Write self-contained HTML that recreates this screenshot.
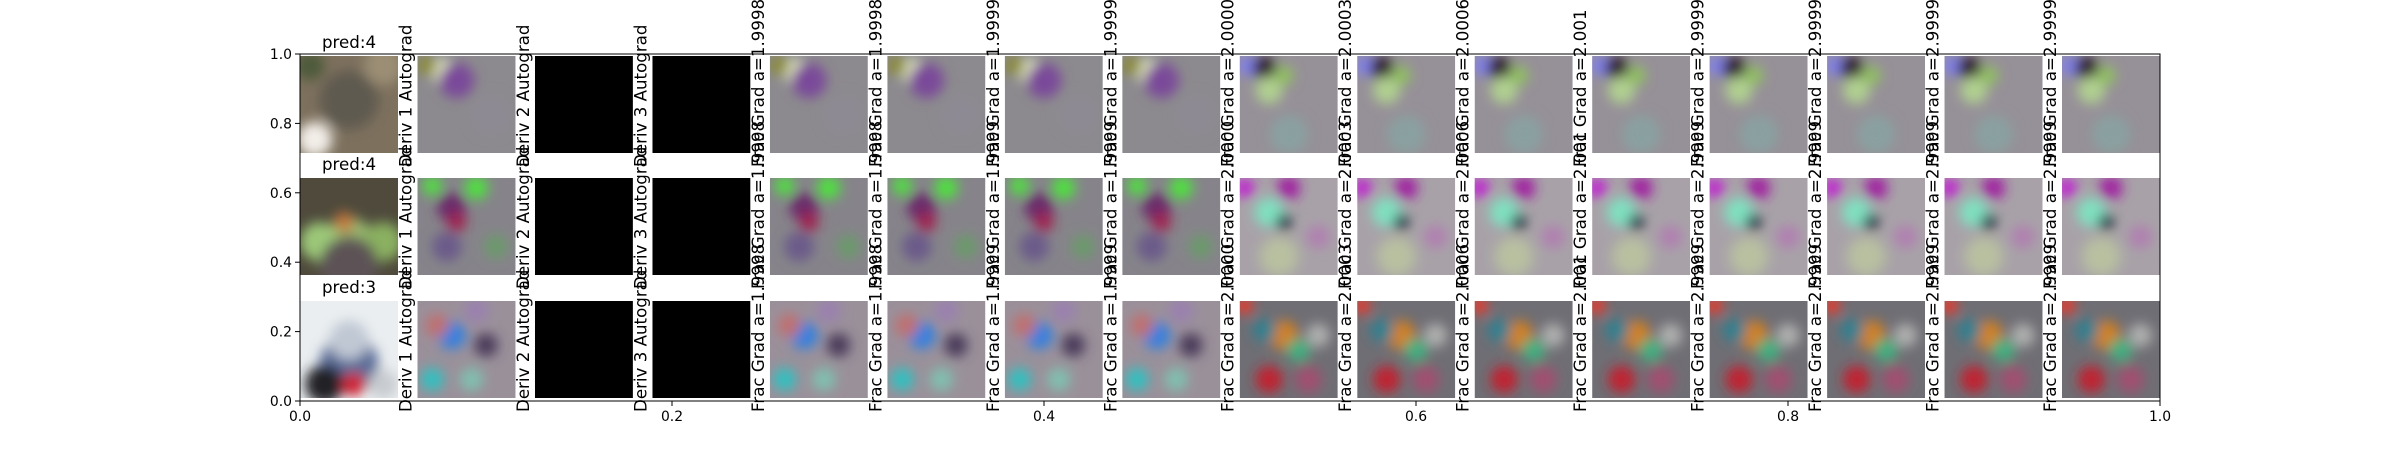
<!DOCTYPE html>
<html><head><meta charset="utf-8">
<style>
html,body{margin:0;padding:0;background:#fff;}
svg{display:block;}
text{font-family:"DejaVu Sans","Liberation Sans",sans-serif;fill:#000;}
</style></head>
<body>
<svg id="fig" width="2400" height="450" viewBox="0 0 2400 450" xmlns="http://www.w3.org/2000/svg">
<defs>
<filter id="blur" x="-50%" y="-50%" width="200%" height="200%"><feGaussianBlur stdDeviation="6"/></filter>
</defs>
<g id="cells"></g>
<g id="axes"></g>
</svg>
<script>
const colLabels = ["", "Deriv 1 Autograd","Deriv 2 Autograd","Deriv 3 Autograd",
 "Frac Grad a=1.9998","Frac Grad a=1.9998","Frac Grad a=1.9999","Frac Grad a=1.9999",
 "Frac Grad a=2.0000","Frac Grad a=2.0003","Frac Grad a=2.0006","Frac Grad a=2.001",
 "Frac Grad a=2.9999","Frac Grad a=2.9999","Frac Grad a=2.9999","Frac Grad a=2.9999"];
const rowTitles = ["pred:4","pred:4","pred:3"];
const colKinds = ["photo","salA","black","black","salA","salA","salA","salA","salB","salB","salB","salB","salB","salB","salB","salB"];
const xTicks = [0.0,0.2,0.4,0.6,0.8,1.0];
const yTicks = [0.0,0.2,0.4,0.6,0.8,1.0];

const looks = {
 photo:[
  ["#7d705d",[[0.5,0.45,0.3,"#5f5a50"],[0.15,0.85,0.18,"#f2eee8"],[0.85,0.1,0.2,"#9b8e75"],[0.1,0.1,0.15,"#4e5a3a"]]],
  ["#4f4a3c",[[0.5,0.65,0.25,"#98b870"],[0.2,0.65,0.2,"#9cc878"],[0.85,0.65,0.2,"#8ab060"],[0.45,0.45,0.1,"#c4773a"],[0.5,0.9,0.3,"#5d5256"]]],
  ["#eaeef0",[[0.5,0.65,0.3,"#5a6c98"],[0.25,0.85,0.2,"#202028"],[0.55,0.85,0.12,"#d02030"],[0.85,0.85,0.15,"#c8ccd0"],[0.5,0.4,0.2,"#c0c8d4"]]]
 ],
 salA:[
  ["#8c8a8e",[[0.25,0.15,0.12,"#e8f0c8"],[0.4,0.25,0.18,"#7a4a9a"],[0.1,0.1,0.1,"#8a8a30"],[0.75,0.6,0.2,"#8e8a94"]]],
  ["#86848a",[[0.15,0.08,0.1,"#50e040"],[0.6,0.1,0.12,"#50e040"],[0.35,0.3,0.15,"#6a2a6a"],[0.4,0.45,0.1,"#a02050"],[0.8,0.7,0.12,"#6a9a6a"],[0.3,0.7,0.15,"#6a5a8a"]]],
  ["#9a909a",[[0.35,0.35,0.14,"#3080e0"],[0.15,0.8,0.12,"#30c0c0"],[0.55,0.8,0.12,"#80c0b0"],[0.2,0.25,0.12,"#c07070"],[0.6,0.1,0.12,"#9a80b0"],[0.7,0.45,0.12,"#4a3a5a"]]]
 ],
 black:[["#000",[]],["#000",[]],["#000",[]]],
 salB:[
  ["#969098",[[0.08,0.1,0.1,"#8080f0"],[0.25,0.12,0.12,"#302030"],[0.3,0.35,0.14,"#b0d090"],[0.45,0.2,0.1,"#90c060"],[0.5,0.8,0.2,"#8aa0a0"]]],
  ["#a8a2a8",[[0.05,0.1,0.1,"#c020d0"],[0.5,0.1,0.12,"#a020a0"],[0.3,0.35,0.15,"#80e0c0"],[0.45,0.45,0.08,"#203040"],[0.8,0.6,0.12,"#b080b0"],[0.4,0.8,0.2,"#b8c0a0"]]],
  ["#6f6e74",[[0.05,0.05,0.08,"#ff3020"],[0.45,0.35,0.15,"#d08020"],[0.25,0.3,0.12,"#308090"],[0.6,0.5,0.12,"#40b080"],[0.3,0.8,0.14,"#c02030"],[0.7,0.8,0.14,"#a05070"],[0.8,0.35,0.12,"#b0b0b0"]]]
 ]
};

const NS = "http://www.w3.org/2000/svg";
const AX = {l:300,r:2160,t:54,b:401};
function sx(v){return AX.l+(AX.r-AX.l)*v;}
function sy(v){return AX.b-(AX.b-AX.t)*v;}
function mk(tag,attrs,parent){const e=document.createElementNS(NS,tag);for(const k in attrs)e.setAttribute(k,attrs[k]);parent.appendChild(e);return e;}

const cells=document.getElementById("cells");
const defs=document.querySelector("defs");
const imgW=98, pitch=(2062-300)/15;
const rowTops=[56,178,301];
for(let r=0;r<3;r++){
 for(let c=0;c<16;c++){
  const x=300+c*pitch, y=rowTops[r];
  const cp=mk("clipPath",{id:"cp"+r+"_"+c},defs);
  mk("rect",{x:x,y:y,width:imgW,height:imgW-1},cp);
  const g=mk("g",{"clip-path":"url(#cp"+r+"_"+c+")"},cells);
  
  
  const lk=looks[colKinds[c]][r];
  mk("rect",{x:x,y:y,width:imgW,height:imgW-1,fill:lk[0]},g);
  const bg=mk("g",{filter:"url(#blur)"},g);
  lk[1].forEach(b=>mk("circle",{cx:x+b[0]*imgW,cy:y+b[1]*imgW,r:b[2]*imgW,fill:b[3]},bg));
  if(c>0){
   const tx=x-6, ty=y+imgW+13;
   const t=mk("text",{x:tx,y:ty,transform:"rotate(-90 "+tx+" "+ty+")","font-size":"16.67"},cells);
   t.textContent=colLabels[c];
   
   
  }
 }
 const tt=mk("text",{x:300+imgW/2,y:rowTops[r]-8,"text-anchor":"middle","font-size":"16.67"},cells);
 tt.textContent=rowTitles[r];
 
 
}

const axes=document.getElementById("axes");
const frame=mk("rect",{x:AX.l,y:AX.t,width:AX.r-AX.l,height:AX.b-AX.t,fill:"none",stroke:"#000","stroke-width":1},axes);


xTicks.forEach(v=>{
 const x=sx(v);
 mk("line",{x1:x,x2:x,y1:AX.b,y2:AX.b+5,stroke:"#000"},axes);
 const t=mk("text",{x:x,y:AX.b+20,"text-anchor":"middle","font-size":"13.9"},axes);
 t.textContent=v.toFixed(1);
 
 
});
yTicks.forEach(v=>{
 const y=sy(v);
 mk("line",{x1:AX.l-5,x2:AX.l,y1:y,y2:y,stroke:"#000"},axes);
 const t=mk("text",{x:AX.l-8,y:y+5,"text-anchor":"end","font-size":"13.9"},axes);
 t.textContent=v.toFixed(1);
 
 
});
</script>
</body></html>
